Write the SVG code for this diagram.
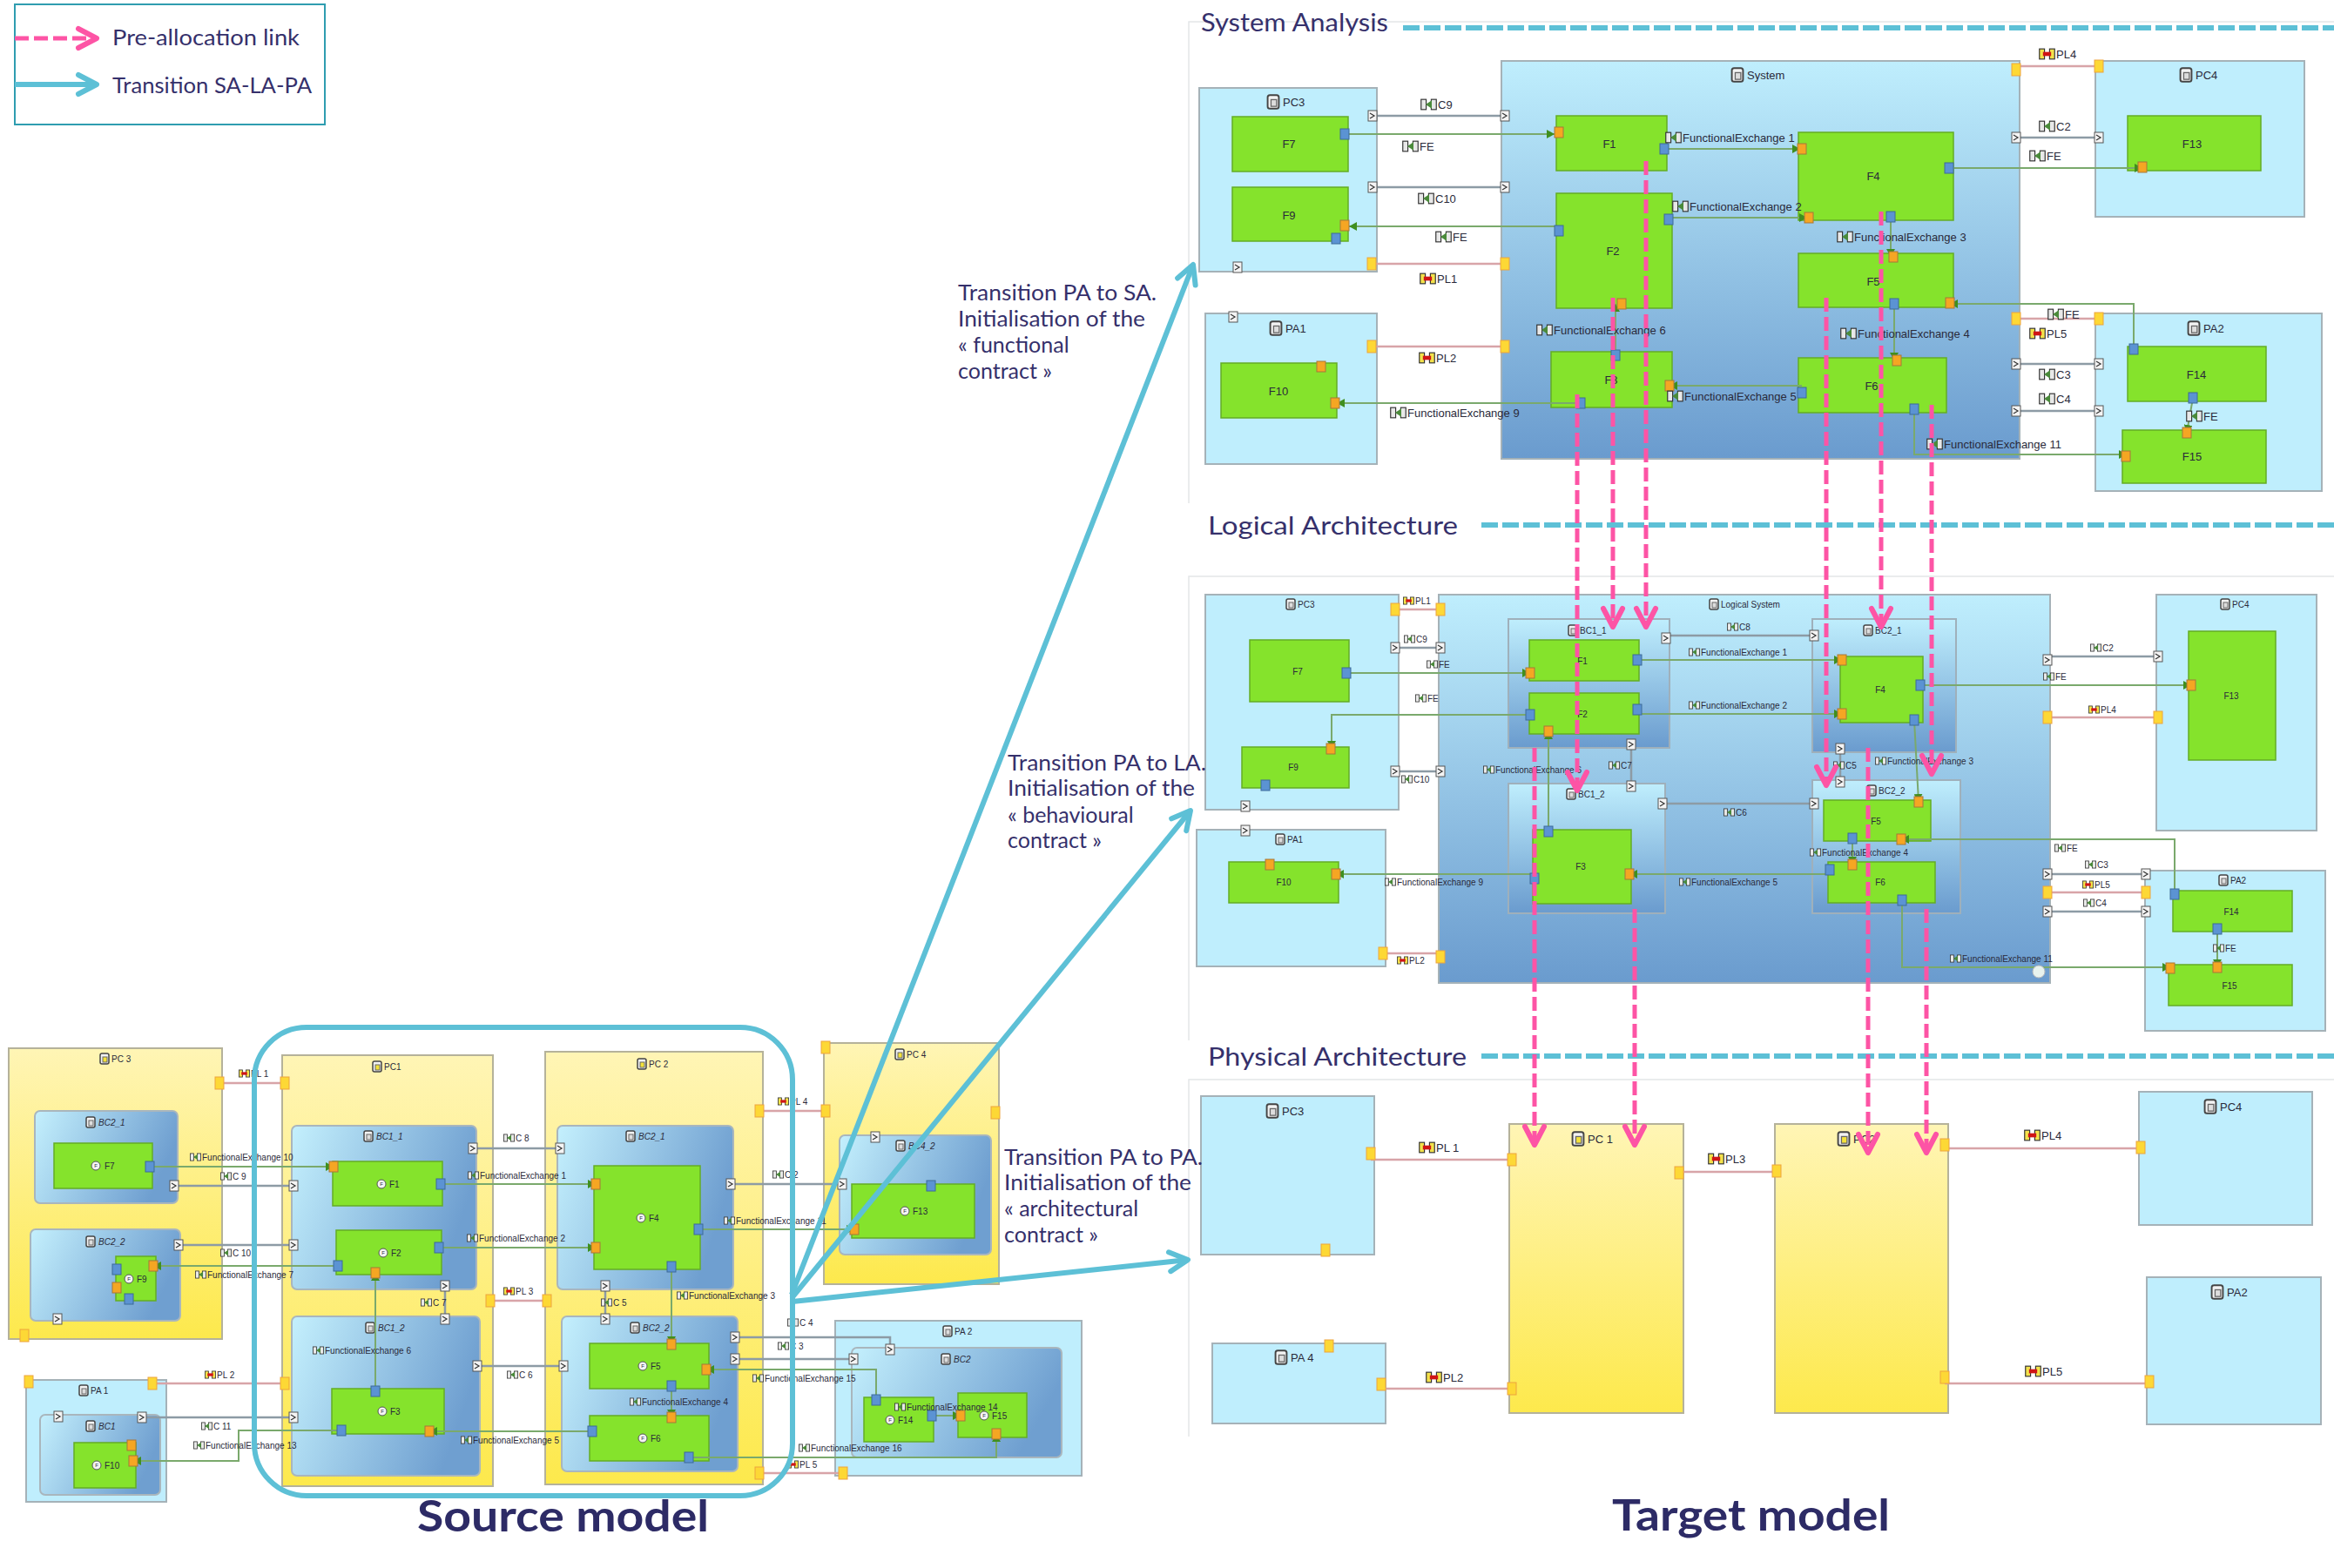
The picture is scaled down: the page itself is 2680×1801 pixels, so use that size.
<svg xmlns="http://www.w3.org/2000/svg" width="2680" height="1801" viewBox="0 0 2680 1801">
<style>
text{font-family:"Liberation Sans",Arial,sans-serif;fill:#2a2a3a}
.h{font-family:Lato,"Liberation Sans",sans-serif;fill:#35306b;font-size:25px}
.big{font-family:Lato,"Liberation Sans",sans-serif;fill:#2d2b66;font-size:50px;font-weight:700}
.s{font-size:10px;dominant-baseline:central}
.m{font-size:10px;dominant-baseline:central}
.b{font-size:13px;dominant-baseline:central}
.it{font-style:italic}
.mid{text-anchor:middle}
.pa{fill:#bfeefd;stroke:#a5b2b8;stroke-width:2}
.sys{fill:url(#gv);stroke:#a5b2b8;stroke-width:2}
.yel{fill:url(#gy);stroke:#b5b29a;stroke-width:2}
.bc{fill:url(#gh);stroke:#a9b6bd;stroke-width:2}
.bc2{fill:url(#gv);stroke:#9fb0bb;stroke-width:2}
.f{fill:#85e32c;stroke:#64ad25;stroke-width:1.5}
.c{fill:none;stroke:#8d9ba5;stroke-width:2.5}
.pl{fill:none;stroke:#d8a4a8;stroke-width:2.5}
.fe{fill:none;stroke:#7aa96c;stroke-width:2;marker-end:url(#fa)}
.pk{fill:none;stroke:#fd54a5;stroke-width:5;stroke-dasharray:16 6;marker-end:url(#pka)}
.cy{fill:none;stroke:#5dc0d6;stroke-width:6;marker-end:url(#cya)}
.sec{fill:none;stroke:#5dc0d6;stroke-width:6;stroke-dasharray:19 5}
.fr{fill:none;stroke:#e4e6e8;stroke-width:1.5}
</style>
<defs>
<linearGradient id="gv" x1="0" y1="0" x2="0" y2="1"><stop offset="0" stop-color="#bfeefd"/><stop offset="1" stop-color="#6a9bce"/></linearGradient>
<linearGradient id="gh" x1="0" y1="0" x2="1" y2="0.3"><stop offset="0" stop-color="#c4f0fd"/><stop offset="1" stop-color="#6f9fd0"/></linearGradient>
<linearGradient id="gy" x1="0" y1="0" x2="0" y2="1"><stop offset="0" stop-color="#fff5b5"/><stop offset="1" stop-color="#fde94c"/></linearGradient>
<marker id="fa" markerUnits="userSpaceOnUse" markerWidth="10" markerHeight="10" refX="9" refY="5" orient="auto"><path d="M0 0L9 5L0 10Z" fill="#3f8f1f"/></marker>
<marker id="pka" markerUnits="userSpaceOnUse" markerWidth="30" markerHeight="30" refX="25" refY="15" orient="auto"><path d="M4 4L25 15L4 26" fill="none" stroke="#fd54a5" stroke-width="6" stroke-linecap="round" stroke-linejoin="round"/></marker>
<marker id="cya" markerUnits="userSpaceOnUse" markerWidth="30" markerHeight="30" refX="25" refY="15" orient="auto"><path d="M4 4L25 15L4 26" fill="none" stroke="#5dc0d6" stroke-width="6" stroke-linecap="round" stroke-linejoin="round"/></marker>
<rect id="po" x="-5" y="-6" width="10" height="12" fill="#f5a623" stroke="#a8763a"/>
<rect id="pb" x="-5" y="-6" width="10" height="12" fill="#5b93d3" stroke="#3c6a99"/>
<rect id="py" x="-5" y="-7" width="10" height="14" fill="#fdd835" stroke="#eda33f"/>
<g id="pg"><rect x="-5" y="-6" width="10" height="12" fill="#f4f4f4" stroke="#555"/><path d="M-3 -3L2 0L-3 3" fill="none" stroke="#333" stroke-width="1.2"/></g>
<symbol id="ic" viewBox="0 0 16 12"><rect x="0.5" y="1" width="5" height="10" fill="#e8e8e8" stroke="#333"/><rect x="10.500" y="1" width="5" height="10" fill="#e8e8e8" stroke="#333"/><path d="M5 6L11 2V10Z" fill="#4a8a3a"/></symbol>
<symbol id="ipl" viewBox="0 0 16 12"><rect x="0.500" y="1" width="5" height="10" fill="#f3e24b" stroke="#333"/><rect x="10.500" y="1" width="5" height="10" fill="#f3e24b" stroke="#333"/><rect x="4" y="4" width="8" height="4" fill="#d01515"/></symbol>
<symbol id="ti" viewBox="0 0 12 14"><rect x="1" y="1" width="10" height="12" rx="2" fill="#f2f2f2" stroke="#444" stroke-width="1.500"/><rect x="4" y="5" width="5" height="6" fill="#ddd" stroke="#666"/></symbol>
<symbol id="tiy" viewBox="0 0 12 14"><rect x="1" y="1" width="10" height="12" rx="2" fill="#f2f2f2" stroke="#444" stroke-width="1.500"/><rect x="4" y="5" width="5" height="6" fill="#f4e23a" stroke="#666"/></symbol>
<g id="fi"><circle r="5" fill="#f4f4f4" stroke="#555"/><text class="s mid" font-size="6" style="font-size:6px">F</text></g>
</defs>
<rect width="2680" height="1801" fill="#fff"/>
<g id="legend">
<rect x="17" y="5" width="356" height="138" fill="#fff" stroke="#2f9db0" stroke-width="2"/>
<path class="pk" d="M17 44H111"/>
<path class="cy" d="M17 97H111"/>
<text class="h" x="129" y="52" textLength="215" lengthAdjust="spacingAndGlyphs">Pre-allocation link</text>
<text class="h" x="129" y="107" textLength="229" lengthAdjust="spacingAndGlyphs">Transition SA-LA-PA</text>
</g>
<g id="frames">
<path class="fr" d="M1365 578V25H2680M1365 1195V662H2680M1365 1650V1240H2680"/>
</g>
<g id="section-titles">
<text class="h" x="1379" y="36" font-size="28" style="font-size:28px" textLength="215" lengthAdjust="spacingAndGlyphs">System Analysis</text>
<path class="sec" d="M1611 32H2680"/>
<text class="h" x="1387" y="614" style="font-size:28px" textLength="287" lengthAdjust="spacingAndGlyphs">Logical Architecture</text>
<path class="sec" d="M1701 603H2680"/>
<text class="h" x="1387" y="1224" style="font-size:28px" textLength="297" lengthAdjust="spacingAndGlyphs">Physical Architecture</text>
<path class="sec" d="M1701 1213H2680"/>
</g>

<!-- Source model -->
<g id="src-pc3"><rect class="yel" x="10" y="1204" width="245" height="334"/><use href="#tiy" x="114" y="1209" width="12" height="14"/><text class="s" x="128" y="1216">PC 3</text></g>
<g id="src-bc21l"><rect class="bc" x="40" y="1276" width="164" height="106" rx="6"/><use href="#ti" x="98" y="1282" width="12" height="14"/><text class="s it" x="113" y="1289">BC2_1</text></g>
<g id="src-f7"><rect class="f" x="62" y="1313" width="113" height="52"/><use href="#fi" transform="translate(110 1339)"/><text class="s" x="120" y="1339">F7</text></g>
<g id="src-bc22l"><rect class="bc" x="35" y="1412" width="172" height="105" rx="6"/><use href="#ti" x="98" y="1419" width="12" height="14"/><text class="s it" x="113" y="1426">BC2_2</text></g>
<g id="src-f9"><rect class="f" x="133" y="1443" width="46" height="51"/><use href="#fi" transform="translate(148 1469)"/><text class="s" x="157" y="1469">F9</text></g>
<g id="src-pc1"><rect class="yel" x="324" y="1212" width="242" height="495"/><use href="#tiy" x="427" y="1218" width="12" height="14"/><text class="s" x="441" y="1225">PC1</text></g>
<g id="src-bc11"><rect class="bc" x="335" y="1293" width="212" height="188" rx="6"/><use href="#ti" x="417" y="1298" width="12" height="14"/><text class="s it" x="432" y="1305">BC1_1</text></g>
<g id="src-f1"><rect class="f" x="382" y="1334" width="126" height="51"/><use href="#fi" transform="translate(438 1360)"/><text class="s" x="447" y="1360">F1</text></g>
<g id="src-f2"><rect class="f" x="386" y="1413" width="121" height="51"/><use href="#fi" transform="translate(440 1439)"/><text class="s" x="449" y="1439">F2</text></g>
<g id="src-bc12"><rect class="bc" x="335" y="1512" width="216" height="183" rx="6"/><use href="#ti" x="419" y="1518" width="12" height="14"/><text class="s it" x="434" y="1525">BC1_2</text></g>
<g id="src-f3"><rect class="f" x="381" y="1595" width="129" height="52"/><use href="#fi" transform="translate(439 1621)"/><text class="s" x="448" y="1621">F3</text></g>
<g id="src-pc2"><rect class="yel" x="626" y="1208" width="250" height="497"/><use href="#tiy" x="731" y="1215" width="12" height="14"/><text class="s" x="745" y="1222">PC 2</text></g>
<g id="src-bc21"><rect class="bc" x="640" y="1293" width="202" height="188" rx="6"/><use href="#ti" x="718" y="1298" width="12" height="14"/><text class="s it" x="733" y="1305">BC2_1</text></g>
<g id="src-f4"><rect class="f" x="682" y="1339" width="122" height="119"/><use href="#fi" transform="translate(736 1399)"/><text class="s" x="745" y="1399">F4</text></g>
<g id="src-bc22"><rect class="bc" x="645" y="1512" width="202" height="178" rx="6"/><use href="#ti" x="723" y="1518" width="12" height="14"/><text class="s it" x="738" y="1525">BC2_2</text></g>
<g id="src-f5"><rect class="f" x="677" y="1543" width="137" height="52"/><use href="#fi" transform="translate(738 1569)"/><text class="s" x="747" y="1569">F5</text></g>
<g id="src-f6"><rect class="f" x="677" y="1626" width="137" height="52"/><use href="#fi" transform="translate(738 1652)"/><text class="s" x="747" y="1652">F6</text></g>
<g id="src-pc4"><rect class="yel" x="946" y="1198" width="201" height="277"/><use href="#tiy" x="1027" y="1204" width="12" height="14"/><text class="s" x="1041" y="1211">PC 4</text></g>
<g id="src-bc42"><rect class="bc" x="964" y="1304" width="174" height="137" rx="6"/><use href="#ti" x="1028" y="1309" width="12" height="14"/><text class="s it" x="1043" y="1316">BC4_2</text></g>
<g id="src-f13"><rect class="f" x="978" y="1360" width="141" height="62"/><use href="#fi" transform="translate(1039 1391)"/><text class="s" x="1048" y="1391">F13</text></g>
<g id="src-pa2"><rect class="pa" x="959" y="1517" width="283" height="178"/><use href="#ti" x="1082" y="1522" width="12" height="14"/><text class="s" x="1096" y="1529">PA 2</text></g>
<g id="src-bc2"><rect class="bc" x="978" y="1548" width="241" height="126" rx="6"/><use href="#ti" x="1080" y="1554" width="12" height="14"/><text class="s it" x="1095" y="1561">BC2</text></g>
<g id="src-f14"><rect class="f" x="992" y="1605" width="80" height="51"/><use href="#fi" transform="translate(1022 1631)"/><text class="s" x="1031" y="1631">F14</text></g>
<g id="src-f15"><rect class="f" x="1100" y="1600" width="79" height="51"/><use href="#fi" transform="translate(1130 1626)"/><text class="s" x="1139" y="1626">F15</text></g>
<g id="src-pa1"><rect class="pa" x="30" y="1585" width="161" height="140"/><use href="#ti" x="90" y="1590" width="12" height="14"/><text class="s" x="104" y="1597">PA 1</text></g>
<g id="src-bc1"><rect class="bc" x="46" y="1625" width="138" height="92" rx="6"/><use href="#ti" x="98" y="1631" width="12" height="14"/><text class="s it" x="113" y="1638">BC1</text></g>
<g id="src-f10"><rect class="f" x="85" y="1657" width="71" height="52"/><use href="#fi" transform="translate(111 1683)"/><text class="s" x="120" y="1683">F10</text></g>

<g id="src-connectors">
<path class="pl" d="M252 1244H327M175 1589H327M563 1494H628M872 1276H948M872 1692H968"/>
<path class="c" d="M200 1362H337M205 1430H337M543 1319H643M839 1360H967M511 1477V1515M695 1477V1515M548 1569H647M163 1628H337M844 1536H1022V1550M844 1561H980"/>
<path class="fe" d="M172 1340H383"/><path class="fe" d="M388 1454H176"/><path class="fe" d="M506 1360H684"/><path class="fe" d="M504 1433H684"/><path class="fe" d="M802 1412H981"/><path class="fe" d="M771 1455V1544"/><path class="fe" d="M431 1598V1462"/><path class="fe" d="M771 1592V1628"/><path class="fe" d="M680 1644H493"/><path class="fe" d="M392 1643H274V1678H153"/><path class="fe" d="M1006 1608V1573H811"/><path class="fe" d="M1070 1626H1103"/><path class="fe" d="M791 1674H1144V1647"/>
<use href="#py" x="252" y="1244"/><use href="#py" x="327" y="1244"/><use href="#py" x="175" y="1589"/><use href="#py" x="327" y="1589"/><use href="#py" x="33" y="1587"/><use href="#py" x="563" y="1494"/><use href="#py" x="628" y="1494"/><use href="#py" x="872" y="1276"/><use href="#py" x="948" y="1276"/><use href="#py" x="872" y="1692"/><use href="#py" x="968" y="1692"/><use href="#py" x="28" y="1534"/><use href="#py" x="1143" y="1278"/><use href="#py" x="948" y="1203"/>
<use href="#pg" x="200" y="1362"/><use href="#pg" x="337" y="1362"/><use href="#pg" x="205" y="1430"/><use href="#pg" x="337" y="1430"/><use href="#pg" x="543" y="1319"/><use href="#pg" x="643" y="1319"/><use href="#pg" x="839" y="1360"/><use href="#pg" x="967" y="1360"/><use href="#pg" x="511" y="1477"/><use href="#pg" x="511" y="1515"/><use href="#pg" x="695" y="1477"/><use href="#pg" x="695" y="1515"/><use href="#pg" x="548" y="1569"/><use href="#pg" x="647" y="1569"/><use href="#pg" x="163" y="1628"/><use href="#pg" x="337" y="1628"/><use href="#pg" x="844" y="1536"/><use href="#pg" x="1022" y="1550"/><use href="#pg" x="844" y="1561"/><use href="#pg" x="980" y="1561"/><use href="#pg" x="66" y="1515"/><use href="#pg" x="67" y="1627"/><use href="#pg" x="1005" y="1306"/>
<use href="#pb" x="172" y="1340"/><use href="#po" x="383" y="1340"/><use href="#pb" x="388" y="1454"/><use href="#po" x="176" y="1454"/><use href="#pb" x="506" y="1360"/><use href="#po" x="684" y="1360"/><use href="#pb" x="504" y="1433"/><use href="#po" x="684" y="1433"/><use href="#pb" x="802" y="1412"/><use href="#po" x="981" y="1412"/><use href="#pb" x="771" y="1455"/><use href="#po" x="771" y="1544"/><use href="#pb" x="431" y="1598"/><use href="#po" x="431" y="1462"/><use href="#pb" x="771" y="1592"/><use href="#po" x="771" y="1628"/><use href="#pb" x="680" y="1644"/><use href="#po" x="493" y="1644"/><use href="#pb" x="392" y="1643"/><use href="#po" x="153" y="1678"/><use href="#po" x="151" y="1660"/><use href="#pb" x="1006" y="1608"/><use href="#po" x="811" y="1573"/><use href="#pb" x="1070" y="1626"/><use href="#po" x="1103" y="1626"/><use href="#pb" x="791" y="1674"/><use href="#po" x="1144" y="1647"/><use href="#pb" x="1069" y="1362"/><use href="#pb" x="134" y="1458"/><use href="#po" x="134" y="1479"/><use href="#pb" x="148" y="1492"/>
<use href="#ipl" x="274" y="1228" width="13" height="10"/><text class="s" x="288" y="1233">PL 1</text>
<use href="#ic" x="218" y="1324" width="13" height="10"/><text class="s" x="232" y="1329">FunctionalExchange 10</text>
<use href="#ic" x="253" y="1346" width="13" height="10"/><text class="s" x="267" y="1351">C 9</text>
<use href="#ic" x="253" y="1434" width="13" height="10"/><text class="s" x="267" y="1439">C 10</text>
<use href="#ic" x="224" y="1459" width="13" height="10"/><text class="s" x="238" y="1464">FunctionalExchange 7</text>
<use href="#ic" x="578" y="1302" width="13" height="10"/><text class="s" x="592" y="1307">C 8</text>
<use href="#ic" x="537" y="1345" width="13" height="10"/><text class="s" x="551" y="1350">FunctionalExchange 1</text>
<use href="#ic" x="536" y="1417" width="13" height="10"/><text class="s" x="550" y="1422">FunctionalExchange 2</text>
<use href="#ic" x="887" y="1344" width="13" height="10"/><text class="s" x="901" y="1349">C 2</text>
<use href="#ic" x="831" y="1397" width="13" height="10"/><text class="s" x="845" y="1402">FunctionalExchange 11</text>
<use href="#ipl" x="893" y="1260" width="13" height="10"/><text class="s" x="907" y="1265">PL 4</text>
<use href="#ipl" x="578" y="1478" width="13" height="10"/><text class="s" x="592" y="1483">PL 3</text>
<use href="#ic" x="483" y="1491" width="13" height="10"/><text class="s" x="497" y="1496">C 7</text>
<use href="#ic" x="690" y="1491" width="13" height="10"/><text class="s" x="704" y="1496">C 5</text>
<use href="#ic" x="777" y="1483" width="13" height="10"/><text class="s" x="791" y="1488">FunctionalExchange 3</text>
<use href="#ic" x="359" y="1546" width="13" height="10"/><text class="s" x="373" y="1551">FunctionalExchange 6</text>
<use href="#ic" x="582" y="1574" width="13" height="10"/><text class="s" x="596" y="1579">C 6</text>
<use href="#ic" x="723" y="1605" width="13" height="10"/><text class="s" x="737" y="1610">FunctionalExchange 4</text>
<use href="#ic" x="529" y="1649" width="13" height="10"/><text class="s" x="543" y="1654">FunctionalExchange 5</text>
<use href="#ic" x="222" y="1655" width="13" height="10"/><text class="s" x="236" y="1660">FunctionalExchange 13</text>
<use href="#ic" x="231" y="1633" width="13" height="10"/><text class="s" x="245" y="1638">C 11</text>
<use href="#ipl" x="235" y="1574" width="13" height="10"/><text class="s" x="249" y="1579">PL 2</text>
<use href="#ic" x="904" y="1514" width="13" height="10"/><text class="s" x="918" y="1519">C 4</text>
<use href="#ic" x="893" y="1541" width="13" height="10"/><text class="s" x="907" y="1546">C 3</text>
<use href="#ic" x="864" y="1578" width="13" height="10"/><text class="s" x="878" y="1583">FunctionalExchange 15</text>
<use href="#ic" x="1027" y="1611" width="13" height="10"/><text class="s" x="1041" y="1616">FunctionalExchange 14</text>
<use href="#ic" x="917" y="1658" width="13" height="10"/><text class="s" x="931" y="1663">FunctionalExchange 16</text>
<use href="#ipl" x="904" y="1677" width="13" height="10"/><text class="s" x="918" y="1682">PL 5</text>
</g>
<text class="big" x="479" y="1759" textLength="335" lengthAdjust="spacingAndGlyphs">Source model</text>
<rect id="src-highlight" x="292" y="1180" width="618" height="538" rx="60" fill="none" stroke="#5dc0d6" stroke-width="6"/>

<!-- System Analysis -->
<g id="sa-system"><rect class="sys" x="1724" y="70" width="595" height="457"/><use href="#ti" x="1987" y="77" width="16" height="18"/><text class="b" x="2006" y="86">System</text></g>
<g id="sa-pc3"><rect class="pa" x="1377" y="101" width="204" height="211"/><use href="#ti" x="1454" y="108" width="16" height="18"/><text class="b" x="1473" y="117">PC3</text></g>
<g id="sa-f7"><rect class="f" x="1415" y="134" width="133" height="63"/><text class="b mid" x="1480" y="165">F7</text></g>
<g id="sa-f9"><rect class="f" x="1415" y="215" width="133" height="62"/><text class="b mid" x="1480" y="247">F9</text></g>
<g id="sa-pa1"><rect class="pa" x="1384" y="360" width="197" height="173"/><use href="#ti" x="1457" y="368" width="16" height="18"/><text class="b" x="1476" y="377">PA1</text></g>
<g id="sa-f10"><rect class="f" x="1402" y="417" width="133" height="63"/><text class="b mid" x="1468" y="449">F10</text></g>
<g id="sa-f1"><rect class="f" x="1787" y="133" width="127" height="63"/><text class="b mid" x="1848" y="165">F1</text></g>
<g id="sa-f2"><rect class="f" x="1787" y="222" width="133" height="132"/><text class="b mid" x="1852" y="288">F2</text></g>
<g id="sa-f3"><rect class="f" x="1781" y="404" width="139" height="64"/><text class="b mid" x="1850" y="436">F3</text></g>
<g id="sa-f4"><rect class="f" x="2065" y="152" width="178" height="101"/><text class="b mid" x="2151" y="202">F4</text></g>
<g id="sa-f5"><rect class="f" x="2065" y="291" width="178" height="62"/><text class="b mid" x="2151" y="323">F5</text></g>
<g id="sa-f6"><rect class="f" x="2065" y="411" width="170" height="63"/><text class="b mid" x="2149" y="443">F6</text></g>
<g id="sa-pc4"><rect class="pa" x="2406" y="70" width="240" height="179"/><use href="#ti" x="2502" y="77" width="16" height="18"/><text class="b" x="2521" y="86">PC4</text></g>
<g id="sa-f13"><rect class="f" x="2443" y="133" width="153" height="63"/><text class="b mid" x="2517" y="165">F13</text></g>
<g id="sa-pa2"><rect class="pa" x="2406" y="360" width="260" height="204"/><use href="#ti" x="2511" y="368" width="16" height="18"/><text class="b" x="2530" y="377">PA2</text></g>
<g id="sa-f14"><rect class="f" x="2443" y="398" width="159" height="63"/><text class="b mid" x="2522" y="430">F14</text></g>
<g id="sa-f15"><rect class="f" x="2437" y="494" width="165" height="61"/><text class="b mid" x="2517" y="524">F15</text></g>
<g id="sa-connectors">
<path class="c" d="M1576 133H1728M1576 215H1728M2315 158H2410M2315 418H2410M2315 472H2410"/>
<path class="pl" d="M1575 303H1728M1575 398H1728M2315 76H2410M2315 366H2410"/>
<path class="fe" d="M1544 154H1785"/><path class="fe" d="M1790 260H1549"/><path class="fe" d="M1815 463H1535"/><path class="fe" d="M1911 171H2067"/><path class="fe" d="M1916 250H2075"/><path class="fe" d="M2171 249V295"/><path class="fe" d="M2175 349V414"/><path class="fe" d="M2069 443H1917"/><path class="fe" d="M1855 408V349"/><path class="fe" d="M2238 193H2460"/><path class="fe" d="M2450 401V349H2239"/><path class="fe" d="M2518 457L2511 497"/><path class="fe" d="M2198 470V522H2442"/>
<use href="#pg" x="1576" y="133"/><use href="#pg" x="1728" y="133"/><use href="#pg" x="1576" y="215"/><use href="#pg" x="1728" y="215"/><use href="#pg" x="2315" y="158"/><use href="#pg" x="2410" y="158"/><use href="#pg" x="2315" y="418"/><use href="#pg" x="2410" y="418"/><use href="#pg" x="2315" y="472"/><use href="#pg" x="2410" y="472"/><use href="#pg" x="1421" y="307"/><use href="#pg" x="1416" y="364"/>
<use href="#py" x="1575" y="303"/><use href="#py" x="1728" y="303"/><use href="#py" x="1575" y="398"/><use href="#py" x="1728" y="398"/><use href="#py" x="2315" y="80"/><use href="#py" x="2410" y="76"/><use href="#py" x="2315" y="366"/><use href="#py" x="2410" y="366"/>
<use href="#pb" x="1544" y="154"/><use href="#po" x="1790" y="152"/><use href="#pb" x="1790" y="265"/><use href="#po" x="1544" y="259"/><use href="#pb" x="1534" y="274"/><use href="#pb" x="1815" y="463"/><use href="#po" x="1533" y="463"/><use href="#po" x="1517" y="421"/><use href="#pb" x="1911" y="171"/><use href="#po" x="2069" y="171"/><use href="#pb" x="1916" y="252"/><use href="#po" x="2077" y="250"/><use href="#pb" x="2171" y="249"/><use href="#po" x="2174" y="295"/><use href="#pb" x="2175" y="349"/><use href="#po" x="2178" y="414"/><use href="#pb" x="2069" y="451"/><use href="#po" x="1917" y="443"/><use href="#pb" x="1855" y="408"/><use href="#po" x="1862" y="349"/><use href="#pb" x="2238" y="193"/><use href="#po" x="2460" y="192"/><use href="#pb" x="2450" y="401"/><use href="#po" x="2239" y="348"/><use href="#pb" x="2518" y="457"/><use href="#po" x="2511" y="497"/><use href="#pb" x="2198" y="470"/><use href="#po" x="2441" y="524"/>
<use href="#ic" x="1631" y="113" width="19" height="14"/><text class="b" x="1651" y="120">C9</text>
<use href="#ic" x="1628" y="221" width="19" height="14"/><text class="b" x="1648" y="228">C10</text>
<use href="#ipl" x="1630" y="313" width="19" height="14"/><text class="b" x="1650" y="320">PL1</text>
<use href="#ipl" x="1629" y="404" width="19" height="14"/><text class="b" x="1649" y="411">PL2</text>
<use href="#ic" x="1610" y="161" width="19" height="14"/><text class="b" x="1630" y="168">FE</text>
<use href="#ic" x="1648" y="265" width="19" height="14"/><text class="b" x="1668" y="272">FE</text>
<use href="#ic" x="1596" y="467" width="19" height="14"/><text class="b" x="1616" y="474">FunctionalExchange 9</text>
<use href="#ic" x="1912" y="151" width="19" height="14"/><text class="b" x="1932" y="158">FunctionalExchange 1</text>
<use href="#ic" x="1920" y="230" width="19" height="14"/><text class="b" x="1940" y="237">FunctionalExchange 2</text>
<use href="#ic" x="2109" y="265" width="19" height="14"/><text class="b" x="2129" y="272">FunctionalExchange 3</text>
<use href="#ic" x="2113" y="376" width="19" height="14"/><text class="b" x="2133" y="383">FunctionalExchange 4</text>
<use href="#ic" x="1914" y="448" width="19" height="14"/><text class="b" x="1934" y="455">FunctionalExchange 5</text>
<use href="#ic" x="1764" y="372" width="19" height="14"/><text class="b" x="1784" y="379">FunctionalExchange 6</text>
<use href="#ipl" x="2341" y="55" width="19" height="14"/><text class="b" x="2361" y="62">PL4</text>
<use href="#ic" x="2341" y="138" width="19" height="14"/><text class="b" x="2361" y="145">C2</text>
<use href="#ic" x="2330" y="172" width="19" height="14"/><text class="b" x="2350" y="179">FE</text>
<use href="#ic" x="2351" y="354" width="19" height="14"/><text class="b" x="2371" y="361">FE</text>
<use href="#ipl" x="2330" y="376" width="19" height="14"/><text class="b" x="2350" y="383">PL5</text>
<use href="#ic" x="2341" y="423" width="19" height="14"/><text class="b" x="2361" y="430">C3</text>
<use href="#ic" x="2341" y="451" width="19" height="14"/><text class="b" x="2361" y="458">C4</text>
<use href="#ic" x="2510" y="471" width="19" height="14"/><text class="b" x="2530" y="478">FE</text>
<use href="#ic" x="2212" y="503" width="19" height="14"/><text class="b" x="2232" y="510">FunctionalExchange 11</text>
</g>

<!-- Logical Architecture -->
<g id="la-system"><rect class="sys" x="1652" y="683" width="702" height="446"/><use href="#ti" x="1962" y="687" width="12" height="14"/><text class="m" x="1976" y="694">Logical System</text></g>
<g id="la-pc3"><rect class="pa" x="1384" y="683" width="222" height="247"/><use href="#ti" x="1476" y="687" width="12" height="14"/><text class="m" x="1490" y="694">PC3</text></g>
<g id="la-f7"><rect class="f" x="1435" y="735" width="114" height="71"/><text class="m mid" x="1490" y="771">F7</text></g>
<g id="la-f9"><rect class="f" x="1426" y="858" width="123" height="47"/><text class="m mid" x="1485" y="881">F9</text></g>
<g id="la-pa1"><rect class="pa" x="1374" y="953" width="217" height="157"/><use href="#ti" x="1464" y="957" width="12" height="14"/><text class="m" x="1478" y="964">PA1</text></g>
<g id="la-f10"><rect class="f" x="1411" y="990" width="126" height="47"/><text class="m mid" x="1474" y="1013">F10</text></g>
<g id="la-bc11"><rect class="bc2" x="1732" y="711" width="185" height="148"/><use href="#ti" x="1800" y="717" width="12" height="14"/><text class="m" x="1814" y="724">BC1_1</text></g>
<g id="la-f1"><rect class="f" x="1756" y="735" width="126" height="47"/><text class="m mid" x="1817" y="759">F1</text></g>
<g id="la-f2"><rect class="f" x="1756" y="796" width="126" height="47"/><text class="m mid" x="1817" y="820">F2</text></g>
<g id="la-bc21"><rect class="bc2" x="2081" y="711" width="165" height="153"/><use href="#ti" x="2139" y="717" width="12" height="14"/><text class="m" x="2153" y="724">BC2_1</text></g>
<g id="la-f4"><rect class="f" x="2113" y="754" width="95" height="76"/><text class="m mid" x="2159" y="792">F4</text></g>
<g id="la-bc12"><rect class="bc2" x="1732" y="900" width="180" height="149"/><use href="#ti" x="1798" y="905" width="12" height="14"/><text class="m" x="1812" y="912">BC1_2</text></g>
<g id="la-f3"><rect class="f" x="1760" y="953" width="113" height="85"/><text class="m mid" x="1815" y="995">F3</text></g>
<g id="la-bc22"><rect class="bc2" x="2081" y="896" width="170" height="153"/><use href="#ti" x="2143" y="901" width="12" height="14"/><text class="m" x="2157" y="908">BC2_2</text></g>
<g id="la-f5"><rect class="f" x="2094" y="919" width="123" height="47"/><text class="m mid" x="2154" y="943">F5</text></g>
<g id="la-f6"><rect class="f" x="2099" y="990" width="123" height="47"/><text class="m mid" x="2159" y="1013">F6</text></g>
<g id="la-pc4"><rect class="pa" x="2476" y="683" width="184" height="271"/><use href="#ti" x="2549" y="687" width="12" height="14"/><text class="m" x="2563" y="694">PC4</text></g>
<g id="la-f13"><rect class="f" x="2513" y="725" width="100" height="148"/><text class="m mid" x="2562" y="799">F13</text></g>
<g id="la-pa2"><rect class="pa" x="2463" y="1000" width="207" height="184"/><use href="#ti" x="2547" y="1004" width="12" height="14"/><text class="m" x="2561" y="1011">PA2</text></g>
<g id="la-f14"><rect class="f" x="2495" y="1023" width="137" height="47"/><text class="m mid" x="2562" y="1047">F14</text></g>
<g id="la-f15"><rect class="f" x="2490" y="1108" width="142" height="47"/><text class="m mid" x="2560" y="1132">F15</text></g>
<g id="la-connectors">
<path class="pl" d="M1602 700H1654M1588 1095H1654M2351 824H2478M2351 1025H2464"/>
<path class="c" d="M1602 744H1654M1602 886H1654M1913 730H2083M2351 754H2478M1873 855V903M2113 860V898M1909 923H2083M2351 1004H2464M2351 1047H2464"/>
<path class="fe" d="M1546 773H1757"/><path class="fe" d="M1757 821H1529V860"/><path class="fe" d="M1880 758H2115"/><path class="fe" d="M1880 820H2115"/><path class="fe" d="M2205 787H2516"/><path class="fe" d="M1778 955V840"/><path class="fe" d="M2198 827L2203 921"/><path class="fe" d="M2127 963V993"/><path class="fe" d="M2101 1004H1871"/><path class="fe" d="M1762 1004H1534"/><path class="fe" d="M2497 1027V964H2183"/><path class="fe" d="M2546 1067V1111"/><path class="fe" d="M2184 1034V1111H2492"/>
<use href="#py" x="1602" y="700"/><use href="#py" x="1654" y="700"/><use href="#py" x="1588" y="1095"/><use href="#py" x="1654" y="1099"/><use href="#py" x="2351" y="824"/><use href="#py" x="2478" y="824"/><use href="#py" x="2351" y="1025"/><use href="#py" x="2464" y="1025"/>
<use href="#pg" x="1602" y="744"/><use href="#pg" x="1654" y="744"/><use href="#pg" x="1602" y="886"/><use href="#pg" x="1654" y="886"/><use href="#pg" x="1913" y="733"/><use href="#pg" x="2083" y="730"/><use href="#pg" x="2351" y="758"/><use href="#pg" x="2478" y="754"/><use href="#pg" x="1873" y="855"/><use href="#pg" x="1873" y="903"/><use href="#pg" x="2113" y="860"/><use href="#pg" x="2113" y="898"/><use href="#pg" x="1909" y="923"/><use href="#pg" x="2083" y="923"/><use href="#pg" x="2351" y="1004"/><use href="#pg" x="2464" y="1004"/><use href="#pg" x="2351" y="1047"/><use href="#pg" x="2464" y="1047"/><use href="#pg" x="1430" y="926"/><use href="#pg" x="1430" y="954"/>
<use href="#pb" x="1546" y="773"/><use href="#po" x="1757" y="773"/><use href="#pb" x="1757" y="821"/><use href="#po" x="1528" y="860"/><use href="#pb" x="1453" y="902"/><use href="#pb" x="1880" y="758"/><use href="#po" x="2115" y="758"/><use href="#pb" x="1880" y="815"/><use href="#po" x="2115" y="820"/><use href="#pb" x="2205" y="787"/><use href="#po" x="2516" y="787"/><use href="#pb" x="1778" y="955"/><use href="#po" x="1778" y="840"/><use href="#pb" x="2198" y="827"/><use href="#po" x="2203" y="921"/><use href="#pb" x="2127" y="963"/><use href="#po" x="2127" y="993"/><use href="#pb" x="2101" y="999"/><use href="#po" x="1871" y="1004"/><use href="#pb" x="1762" y="1009"/><use href="#po" x="1534" y="1004"/><use href="#po" x="1458" y="993"/><use href="#pb" x="2497" y="1027"/><use href="#po" x="2183" y="964"/><use href="#pb" x="2546" y="1067"/><use href="#po" x="2546" y="1111"/><use href="#pb" x="2184" y="1034"/><use href="#po" x="2492" y="1112"/>
<circle cx="2341" cy="1116" r="7" fill="#e8f3ee" stroke="#bbb"/>
<use href="#ipl" x="1611" y="685" width="13" height="10"/><text class="m" x="1625" y="690">PL1</text>
<use href="#ic" x="1612" y="729" width="13" height="10"/><text class="m" x="1626" y="734">C9</text>
<use href="#ic" x="1638" y="758" width="13" height="10"/><text class="m" x="1652" y="763">FE</text>
<use href="#ic" x="1625" y="797" width="13" height="10"/><text class="m" x="1639" y="802">FE</text>
<use href="#ic" x="1609" y="890" width="13" height="10"/><text class="m" x="1623" y="895">C10</text>
<use href="#ic" x="1983" y="715" width="13" height="10"/><text class="m" x="1997" y="720">C8</text>
<use href="#ic" x="1939" y="744" width="13" height="10"/><text class="m" x="1953" y="749">FunctionalExchange 1</text>
<use href="#ic" x="1939" y="805" width="13" height="10"/><text class="m" x="1953" y="810">FunctionalExchange 2</text>
<use href="#ic" x="2400" y="739" width="13" height="10"/><text class="m" x="2414" y="744">C2</text>
<use href="#ic" x="2346" y="772" width="13" height="10"/><text class="m" x="2360" y="777">FE</text>
<use href="#ipl" x="2398" y="810" width="13" height="10"/><text class="m" x="2412" y="815">PL4</text>
<use href="#ic" x="1847" y="874" width="13" height="10"/><text class="m" x="1861" y="879">C7</text>
<use href="#ic" x="1703" y="879" width="13" height="10"/><text class="m" x="1717" y="884">FunctionalExchange 6</text>
<use href="#ic" x="2105" y="874" width="13" height="10"/><text class="m" x="2119" y="879">C5</text>
<use href="#ic" x="2153" y="869" width="13" height="10"/><text class="m" x="2167" y="874">FunctionalExchange 3</text>
<use href="#ic" x="1979" y="928" width="13" height="10"/><text class="m" x="1993" y="933">C6</text>
<use href="#ic" x="2078" y="974" width="13" height="10"/><text class="m" x="2092" y="979">FunctionalExchange 4</text>
<use href="#ic" x="1928" y="1008" width="13" height="10"/><text class="m" x="1942" y="1013">FunctionalExchange 5</text>
<use href="#ic" x="1590" y="1008" width="13" height="10"/><text class="m" x="1604" y="1013">FunctionalExchange 9</text>
<use href="#ipl" x="1604" y="1098" width="13" height="10"/><text class="m" x="1618" y="1103">PL2</text>
<use href="#ic" x="2359" y="969" width="13" height="10"/><text class="m" x="2373" y="974">FE</text>
<use href="#ic" x="2394" y="988" width="13" height="10"/><text class="m" x="2408" y="993">C3</text>
<use href="#ipl" x="2391" y="1011" width="13" height="10"/><text class="m" x="2405" y="1016">PL5</text>
<use href="#ic" x="2392" y="1032" width="13" height="10"/><text class="m" x="2406" y="1037">C4</text>
<use href="#ic" x="2541" y="1084" width="13" height="10"/><text class="m" x="2555" y="1089">FE</text>
<use href="#ic" x="2239" y="1096" width="13" height="10"/><text class="m" x="2253" y="1101">FunctionalExchange 11</text>
</g>

<!-- Physical Architecture -->
<g id="pa-pc3"><rect class="pa" x="1379" y="1259" width="199" height="182"/><use href="#ti" x="1453" y="1267" width="16" height="18"/><text class="b" x="1472" y="1276">PC3</text></g>
<g id="pa-pa4"><rect class="pa" x="1392" y="1543" width="199" height="92"/><use href="#ti" x="1463" y="1550" width="16" height="18"/><text class="b" x="1482" y="1559">PA 4</text></g>
<g id="pa-pc1"><rect class="yel" x="1733" y="1291" width="200" height="332"/><use href="#tiy" x="1804" y="1299" width="16" height="18"/><text class="b" x="1823" y="1308">PC 1</text></g>
<g id="pa-pc2"><rect class="yel" x="2038" y="1291" width="199" height="332"/><use href="#tiy" x="2109" y="1299" width="16" height="18"/><text class="b" x="2128" y="1308">PC2</text></g>
<g id="pa-pc4"><rect class="pa" x="2456" y="1254" width="199" height="153"/><use href="#ti" x="2530" y="1262" width="16" height="18"/><text class="b" x="2549" y="1271">PC4</text></g>
<g id="pa-pa2"><rect class="pa" x="2465" y="1467" width="200" height="169"/><use href="#ti" x="2538" y="1475" width="16" height="18"/><text class="b" x="2557" y="1484">PA2</text></g>
<g id="pa-connectors">
<path class="pl" d="M1574 1332H1736M1586 1595H1736M1928 1346H2040M2233 1319H2458M2233 1589H2468"/>
<use href="#py" x="1574" y="1325"/><use href="#py" x="1736" y="1332"/><use href="#py" x="1586" y="1590"/><use href="#py" x="1736" y="1595"/><use href="#py" x="1928" y="1347"/><use href="#py" x="2040" y="1345"/><use href="#py" x="2233" y="1315"/><use href="#py" x="2458" y="1318"/><use href="#py" x="2233" y="1582"/><use href="#py" x="2468" y="1587"/><use href="#py" x="1522" y="1436"/><use href="#py" x="1526" y="1546"/>
<use href="#ipl" x="1629" y="1311" width="19" height="14"/><text class="b" x="1649" y="1318">PL 1</text>
<use href="#ipl" x="1637" y="1575" width="19" height="14"/><text class="b" x="1657" y="1582">PL2</text>
<use href="#ipl" x="1961" y="1324" width="19" height="14"/><text class="b" x="1981" y="1331">PL3</text>
<use href="#ipl" x="2324" y="1297" width="19" height="14"/><text class="b" x="2344" y="1304">PL4</text>
<use href="#ipl" x="2325" y="1568" width="19" height="14"/><text class="b" x="2345" y="1575">PL5</text>
</g>
<text class="big" x="1851" y="1758" textLength="319" lengthAdjust="spacingAndGlyphs">Target model</text>

<g id="transition-text">
<text class="h" x="1100" y="345" textLength="228" lengthAdjust="spacingAndGlyphs">Transition PA to SA.</text>
<text class="h" x="1100" y="375" textLength="215" lengthAdjust="spacingAndGlyphs">Initialisation of the</text>
<text class="h" x="1100" y="405">« functional</text>
<text class="h" x="1100" y="435">contract »</text>
<text class="h" x="1157" y="885" textLength="228" lengthAdjust="spacingAndGlyphs">Transition PA to LA.</text>
<text class="h" x="1157" y="914" textLength="215" lengthAdjust="spacingAndGlyphs">Initialisation of the</text>
<text class="h" x="1157" y="945">« behavioural</text>
<text class="h" x="1157" y="974">contract »</text>
<text class="h" x="1153" y="1338" textLength="228" lengthAdjust="spacingAndGlyphs">Transition PA to PA.</text>
<text class="h" x="1153" y="1367" textLength="215" lengthAdjust="spacingAndGlyphs">Initialisation of the</text>
<text class="h" x="1153" y="1397">« architectural</text>
<text class="h" x="1153" y="1427">contract »</text>
</g>
<g id="transitions">
<path class="cy" d="M909 1487L1370 304"/>
<path class="cy" d="M909 1491L1367 931"/>
<path class="cy" d="M910 1495L1364 1447"/>
</g>
<g id="pre-allocations">
<path class="pk" d="M1890 185V720"/>
<path class="pk" d="M1852 342V720"/>
<path class="pk" d="M1811 453V908"/>
<path class="pk" d="M2097 342V902"/>
<path class="pk" d="M2160 243V720"/>
<path class="pk" d="M2218 465V889"/>
<path class="pk" d="M1762 859V1315"/>
<path class="pk" d="M1877 1044V1315"/>
<path class="pk" d="M2145 859V1324"/>
<path class="pk" d="M2212 1044V1324"/>
</g>
</svg>
